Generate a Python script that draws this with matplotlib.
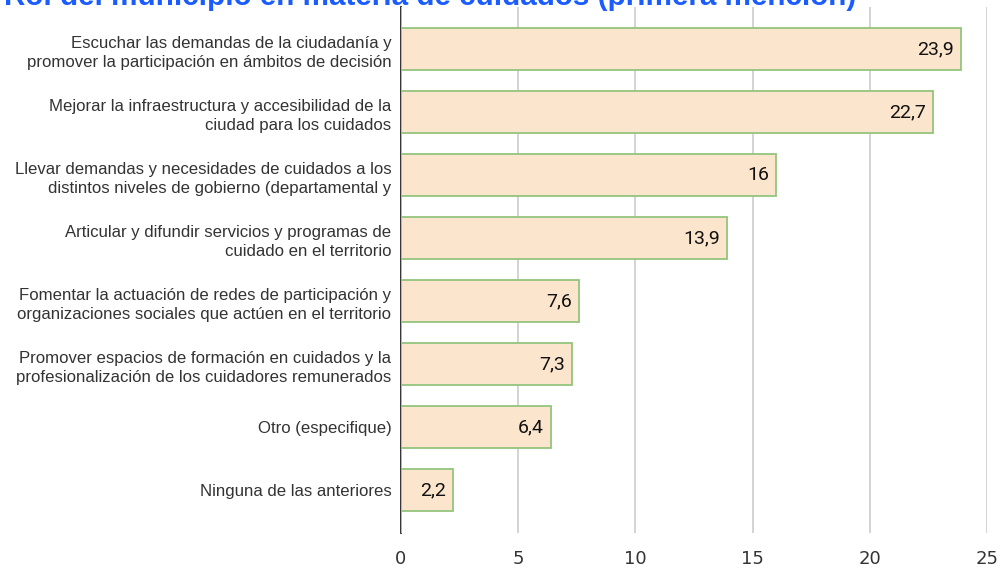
import matplotlib
matplotlib.use("Agg")
import matplotlib.pyplot as plt

# data
categories = [
    "Escuchar las demandas de la ciudadanía y\npromover la participación en ámbitos de decisión",
    "Mejorar la infraestructura y accesibilidad de la\nciudad para los cuidados",
    "Llevar demandas y necesidades de cuidados a los\ndistintos niveles de gobierno (departamental y",
    "Articular y difundir servicios y programas de\ncuidado en el territorio",
    "Fomentar la actuación de redes de participación y\norganizaciones sociales que actúen en el territorio",
    "Promover espacios de formación en cuidados y la\nprofesionalización de los cuidadores remunerados",
    "Otro (especifique)",
    "Ninguna de las anteriores",
]
values = [23.9, 22.7, 16, 13.9, 7.6, 7.3, 6.4, 2.2]
xticks = [0, 5, 10, 15, 20, 25]
title = "Rol del municipio en materia de cuidados (primera mención)"

fig = plt.figure(figsize=(10.01, 5.68), dpi=100)
ax = fig.add_axes([401 / 1001, 35 / 568, 586 / 1001, 526 / 568])

pos = list(range(len(values)))
ax.barh(pos, values, height=0.667, color="#fce5cd", edgecolor="#93c47d",
        linewidth=1.3, zorder=3)

for y, v in zip(pos, values):
    lbl = ("%g" % v).replace(".", ",")
    ax.text(v - 0.3, y, lbl, ha="right", va="center", fontsize=14,
            family="Roboto", color="#111111", zorder=4)

ax.set_xlim(0, 25)
ax.set_ylim(7.68, -0.667)
ax.set_xticks(xticks)
ax.set_xticklabels([str(t) for t in xticks], family="DejaVu Sans",
                   fontsize=13, color="#333333")
ax.set_yticks(pos)
ax.set_yticklabels(categories, family="Liberation Sans", fontsize=12.1,
                   color="#333333", linespacing=1.4)
ax.tick_params(axis="x", length=0, pad=12)
ax.tick_params(axis="y", length=0, pad=7)
ax.grid(axis="x", color="#cccccc", linewidth=1.2, zorder=0)
for s in ["top", "right", "bottom"]:
    ax.spines[s].set_visible(False)
ax.spines["left"].set_color("#222222")
ax.spines["left"].set_linewidth(1.3)
ax.spines["left"].set_zorder(1)

fig.text(4 / 1001, 1 - 5 / 568, title, ha="left", va="baseline",
         family="Liberation Sans", fontweight="bold", fontsize=21.3,
         color="#1a5cff")

fig.savefig("out.png", dpi=100)
